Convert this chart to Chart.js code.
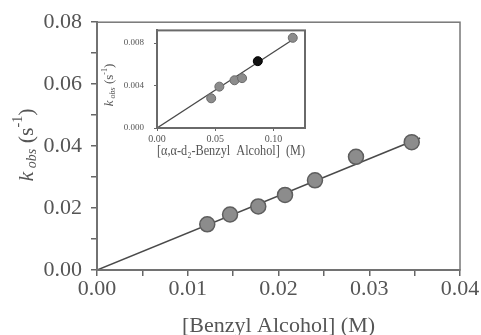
<!DOCTYPE html>
<html>
<head>
<meta charset="utf-8">
<script src="https://cdn.jsdelivr.net/npm/chart.js@4"></script>
<style>
  html, body { margin: 0; padding: 0; background: #fff; }
  #wrap { position: relative; width: 481px; height: 335px; }
  #main { position: absolute; left: 0; top: 0; }
  #inset { position: absolute; left: 100px; top: 15px; }
</style>
</head>
<body>
<div id="wrap">
  <canvas id="main" width="481" height="335"></canvas>
  <canvas id="inset" width="225" height="150"></canvas>
</div>
<script>
// main plot: k_obs vs [benzyl alcohol]
const benzylConc = [0.01215, 0.01466, 0.01777, 0.02072, 0.02402, 0.02854, 0.03468];
const kObs = [0.01475, 0.01791, 0.02053, 0.02423, 0.02896, 0.03654, 0.04128];
const fitX = [0, 0.0356];
const fitY = [0, 0.0426];
const mainXTicks = [0, 0.005, 0.01, 0.015, 0.02, 0.025, 0.03, 0.035, 0.04];
const mainYTicks = [0, 0.01, 0.02, 0.03, 0.04, 0.05, 0.06, 0.07, 0.08];

// inset: deuterated benzyl alcohol
const dConc = [0.0465, 0.0535, 0.0665, 0.0730, 0.0865, 0.1165];
const dKObs = [0.0028, 0.0039, 0.0045, 0.0047, 0.0063, 0.0085];
const dFitX = [0, 0.116];
const dFitY = [0, 0.0083];
const insetXTicks = [0, 0.05, 0.10];
const insetYTicks = [0, 0.004, 0.008];

const pts = (xs, ys) => xs.map((x, i) => ({ x: x, y: ys[i] }));
const serif = "'Liberation Serif', 'DejaVu Serif', serif";
const ink = "#555";

// box around the plot area
const frame = {
    id: "frame",
    afterDatasetsDraw(chart, args, opts) {
        const a = chart.chartArea;
        const c = chart.ctx;
        c.save();
        c.strokeStyle = opts.color;
        c.lineWidth = opts.width;
        c.strokeRect(a.left, a.top, a.right - a.left, a.bottom - a.top);
        c.restore();
    }
};

// rotated "k_obs (s^-1)" title
const kTitle = {
    id: "kTitle",
    afterDraw(chart, args, o) {
        const c = chart.ctx;
        const big = o.size, small = Math.round(o.size * 0.65);
        const parts = [
            { t: "k", f: "italic " + big + "px " + serif, dy: 0 },
            { t: " obs", f: "italic " + small + "px " + serif, dy: big * 0.25 },
            { t: " (s", f: big + "px " + serif, dy: 0 },
            { t: "-1", f: small + "px " + serif, dy: -big * 0.4 },
            { t: ")", f: big + "px " + serif, dy: 0 }
        ];
        c.save();
        let w = 0;
        parts.forEach(p => { c.font = p.f; p.w = c.measureText(p.t).width; w += p.w; });
        c.translate(o.x, o.y);
        c.rotate(-Math.PI / 2);
        c.fillStyle = o.color;
        c.textBaseline = "middle";
        let x = -w / 2;
        parts.forEach(p => {
            c.font = p.f;
            c.fillText(p.t, x, p.dy);
            x += p.w;
        });
        c.restore();
    }
};

const fixedTicks = list => scale => { scale.ticks = list.map(v => ({ value: v })); };

new Chart(document.getElementById("main"), {
    type: "scatter",
    data: {
        datasets: [
            {
                data: pts(benzylConc, kObs),
                pointRadius: 7.5,
                pointBackgroundColor: "#8c8c8c",
                pointBorderColor: "#5e5e5e",
                pointBorderWidth: 1.5
            },
            {
                data: pts(fitX, fitY),
                showLine: true,
                borderColor: "#4a4a4a",
                borderWidth: 1.6,
                pointRadius: 0
            }
        ]
    },
    options: {
        responsive: false,
        animation: false,
        layout: { padding: { top: 17, right: 21, left: 0, bottom: 0 } },
        plugins: {
            legend: { display: false },
            tooltip: { enabled: false },
            frame: { color: "#777", width: 1.5 },
            kTitle: { x: 27, y: 145, size: 22, color: ink }
        },
        scales: {
            x: {
                type: "linear",
                min: 0,
                max: 0.04,
                afterBuildTicks: fixedTicks(mainXTicks),
                afterFit: s => { s.height = 65; },
                grid: { drawOnChartArea: false, tickLength: 6, color: "#666", lineWidth: 1.5 },
                border: { color: "#666", width: 2 },
                ticks: {
                    color: ink,
                    padding: 0,
                    maxRotation: 0,
                    autoSkip: false,
                    font: { family: serif, size: 22 },
                    callback: v => Math.abs(v * 100 - Math.round(v * 100)) < 1e-6 ? v.toFixed(2) : ""
                },
                title: {
                    display: true,
                    text: "[Benzyl Alcohol] (M)",
                    color: ink,
                    font: { family: serif, size: 22, lineHeight: 0.8 },
                    padding: { top: 0, bottom: 0 }
                }
            },
            y: {
                type: "linear",
                min: 0,
                max: 0.08,
                afterBuildTicks: fixedTicks(mainYTicks),
                afterFit: s => { s.width = 97; },
                grid: { drawOnChartArea: false, tickLength: 6, color: "#666", lineWidth: 1.5 },
                border: { color: "#666", width: 2 },
                ticks: {
                    color: ink,
                    padding: 9,
                    autoSkip: false,
                    font: { family: serif, size: 22 },
                    callback: v => Math.abs(v * 50 - Math.round(v * 50)) < 1e-6 ? v.toFixed(2) : ""
                }
            }
        }
    },
    plugins: [frame, kTitle]
});

new Chart(document.getElementById("inset"), {
    type: "scatter",
    data: {
        datasets: [
            {
                data: pts(dConc, dKObs),
                pointRadius: 4.5,
                pointBackgroundColor: dKObs.map((v, i) => i === 4 ? "#111" : "#8c8c8c"),
                pointBorderColor: dKObs.map((v, i) => i === 4 ? "#000" : "#6a6a6a"),
                pointBorderWidth: 1
            },
            {
                data: pts(dFitX, dFitY),
                showLine: true,
                borderColor: "#4a4a4a",
                borderWidth: 1.3,
                pointRadius: 0
            }
        ]
    },
    options: {
        responsive: false,
        animation: false,
        layout: { padding: { top: 8, right: 20, left: 0, bottom: 0 } },
        plugins: {
            legend: { display: false },
            tooltip: { enabled: false },
            frame: { color: "#6a6a6a", width: 2 },
            kTitle: { x: 10, y: 70, size: 13, color: ink }
        },
        scales: {
            x: {
                type: "linear",
                min: 0,
                max: 0.127,
                afterBuildTicks: fixedTicks(insetXTicks),
                afterFit: s => { s.height = 37; },
                grid: { drawOnChartArea: false, tickLength: 3, color: "#666" },
                border: { color: "#6a6a6a", width: 2 },
                ticks: {
                    color: ink,
                    padding: 2,
                    maxRotation: 0,
                    font: { family: serif, size: 10 },
                    callback: v => v.toFixed(2)
                },
                title: {
                    display: true,
                    text: "[\u03b1,\u03b1-d\u2082-Benzyl  Alcohol]  (M)",
                    color: ink,
                    font: { family: serif, size: 14, lineHeight: 1 },
                    padding: { top: 0, bottom: 7 }
                }
            },
            y: {
                type: "linear",
                min: 0,
                max: 0.0092,
                afterBuildTicks: fixedTicks(insetYTicks),
                afterFit: s => { s.width = 57; },
                grid: { drawOnChartArea: false, tickLength: 3, color: "#666" },
                border: { color: "#6a6a6a", width: 2 },
                ticks: {
                    color: ink,
                    padding: 10,
                    font: { family: serif, size: 9 },
                    callback: v => v.toFixed(3)
                }
            }
        }
    },
    plugins: [frame, kTitle]
});
</script>
</body>
</html>
